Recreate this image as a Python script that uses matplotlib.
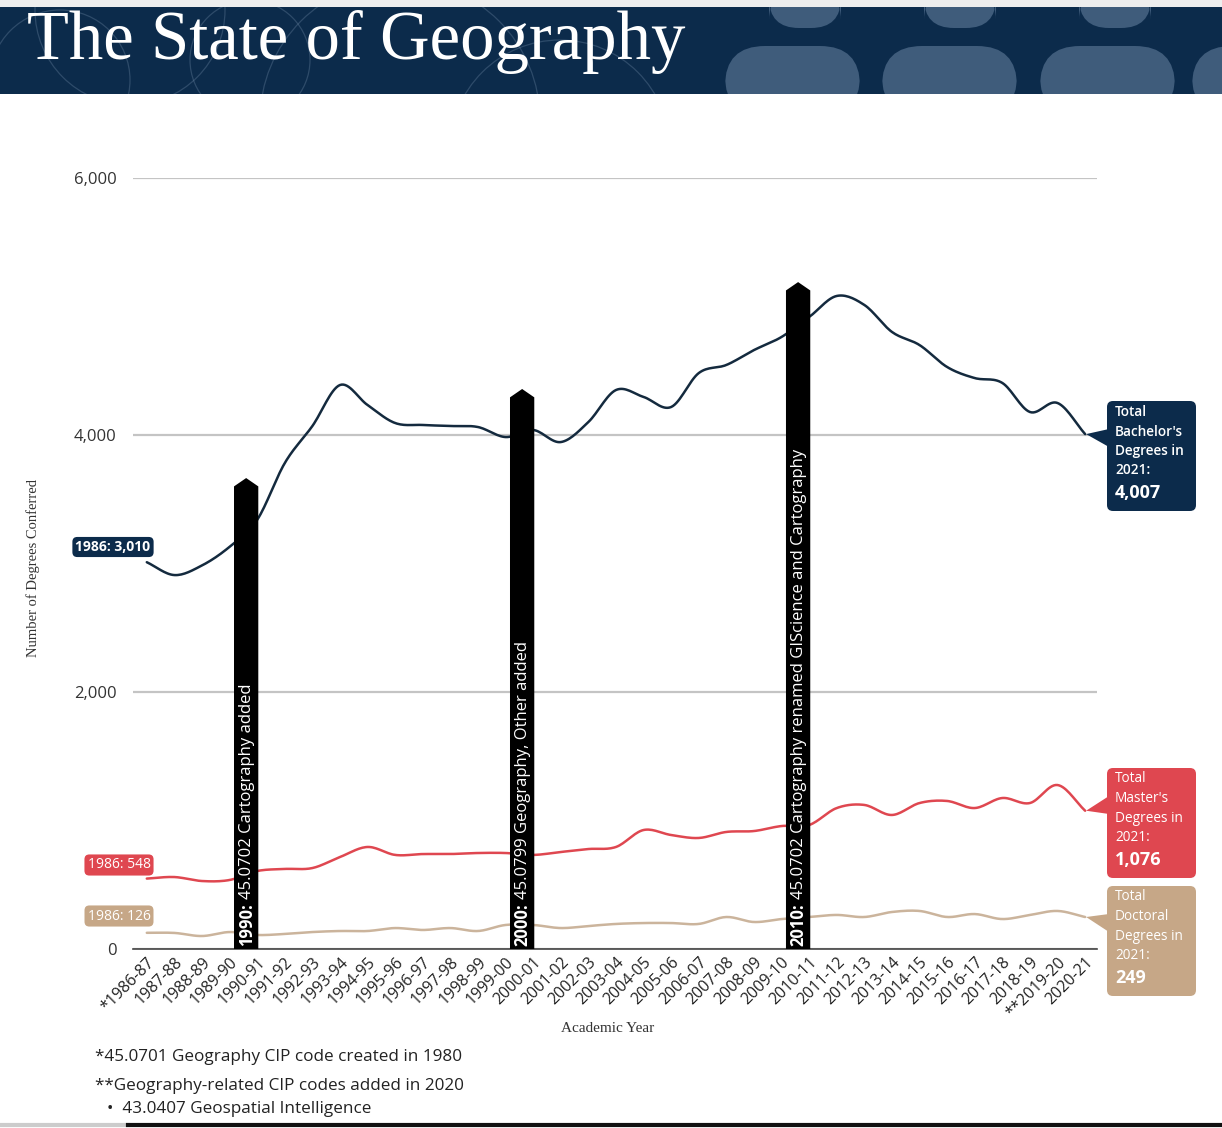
import numpy as np
import matplotlib.pyplot as plt
from matplotlib.patches import Polygon, FancyBboxPatch, Rectangle, Circle

plt.rcParams['font.family'] = ['Open Sans', 'DejaVu Sans']

# ---- data ----
years = ["*1986-87", "1987-88", "1988-89", "1989-90", "1990-91", "1991-92",
         "1992-93", "1993-94", "1994-95", "1995-96", "1996-97", "1997-98",
         "1998-99", "1999-00", "2000-01", "2001-02", "2002-03", "2003-04",
         "2004-05", "2005-06", "2006-07", "2007-08", "2008-09", "2009-10",
         "2010-11", "2011-12", "2012-13", "2013-14", "2014-15", "2015-16",
         "2016-17", "2017-18", "2018-19", "**2019-20", "2020-21"]
bachelors = [3010, 2910, 2985, 3130, 3340, 3782, 4070, 4389, 4233, 4093,
             4078, 4070, 4062, 3984, 4039, 3945, 4101, 4350, 4296, 4218,
             4482, 4545, 4661, 4763, 4918, 5082, 5012, 4802, 4700, 4529,
             4443, 4405, 4179, 4249, 4007]
masters = [548, 560, 529, 537, 607, 623, 630, 716, 794, 732, 739, 739, 747,
           747, 732, 755, 778, 794, 926, 887, 864, 911, 918, 957, 965, 1097,
           1121, 1043, 1136, 1152, 1097, 1175, 1136, 1276, 1076]
doctoral = [126, 125, 101, 132, 109, 117, 132, 140, 140, 163, 148, 163, 140,
            187, 187, 163, 179, 195, 202, 202, 195, 249, 210, 233, 249, 265,
            249, 288, 296, 249, 272, 233, 265, 296, 249]

event_pos = [3.6, 13.6, 23.6]
event_top = [3665, 4358, 5190]
event_year = ["1990:", "2000:", "2010:"]
event_text = ["45.0702 Cartography added",
              "45.0799 Geography, Other added",
              "45.0702 Cartography renamed GIScience and Cartography"]

NAVY = '#0c2b4b'
LINE_NAVY = '#142a3e'
RED = '#df4750'
TAN = '#c6a787'
TAN_LINE = '#cbb49c'


def smooth(y, n=16):
    # Catmull-Rom curve through the points, for drawing only
    y = np.asarray(y, float)
    p = np.concatenate([[2 * y[0] - y[1]], y, [2 * y[-1] - y[-2]]])
    xs, ys = [], []
    t = np.linspace(0, 1, n, endpoint=False)
    for i in range(len(y) - 1):
        p0, p1, p2, p3 = p[i], p[i + 1], p[i + 2], p[i + 3]
        ys.append(0.5 * (2 * p1 + (-p0 + p2) * t
                         + (2 * p0 - 5 * p1 + 4 * p2 - p3) * t ** 2
                         + (-p0 + 3 * p1 - 3 * p2 + p3) * t ** 3))
        xs.append(i + t)
    xs.append([len(y) - 1])
    ys.append([y[-1]])
    return np.concatenate(xs), np.concatenate(ys)


W, H = 1222, 1128
fig = plt.figure(figsize=(W / 100, H / 100), dpi=100)
fig.patch.set_facecolor('white')

ax = fig.add_axes([133 / W, 1 - 949 / H, (1097 - 133) / W, (949 - 178) / H])
ax.set_xlim(-0.5, 34.43)
ax.set_ylim(0, 6000)
for s in ['top', 'right', 'left']:
    ax.spines[s].set_visible(False)
ax.spines['bottom'].set_color('#444444')
ax.spines['bottom'].set_linewidth(1.2)
ax.set_yticks([0, 2000, 4000, 6000])
ax.set_yticklabels(['0', '2,000', '4,000', '6,000'], fontsize=12, color='#333333')
ax.yaxis.grid(True, color='#c4c4c4', lw=1.6)
ax.set_axisbelow(True)
ax.tick_params(length=0)
ax.tick_params(axis='y', pad=12)
ax.tick_params(axis='x', pad=4)
ax.set_xticks(range(len(years)))
ax.set_xticklabels(years, rotation=45, ha='right', va='top',
                   rotation_mode='anchor', fontsize=11.5, color='#222222')

# lines (drawn below the event columns)
for vals, col in [(bachelors, LINE_NAVY), (masters, RED), (doctoral, TAN_LINE)]:
    xs, ys = smooth(vals)
    ax.plot(xs, ys, color=col, lw=1.8, zorder=2, solid_capstyle='round')

# event columns
renderer = fig.canvas.get_renderer()
wbar = 0.44
for pos, top, yr, txt in zip(event_pos, event_top, event_year, event_text):
    poly = Polygon([(pos - wbar, 0), (pos - wbar, top - 65), (pos, top),
                    (pos + wbar, top - 65), (pos + wbar, 0)],
                   closed=True, fc='black', ec='none', zorder=4)
    ax.add_patch(poly)
    t1 = ax.text(pos + 0.02, 25, yr, rotation=90, ha='center', va='bottom',
                 color='white', fontsize=12, fontweight='bold', zorder=5)
    bb = t1.get_window_extent(renderer)
    ytop = ax.transData.inverted().transform((bb.x0, bb.y1))[1]
    ax.text(pos + 0.02, ytop + 30, txt, rotation=90, ha='center',
            va='bottom', color='white', fontsize=12, zorder=5)

# ---- overlay in pixel units ----
ov = fig.add_axes([0, 0, 1, 1], zorder=10)
ov.set_xlim(0, W)
ov.set_ylim(H, 0)
ov.axis('off')

# header band
ov.add_patch(Rectangle((0, 0), W, 7, fc='#eeeeee', ec='none'))
band = Rectangle((0, 7), W, 87, fc=NAVY, ec='none')
ov.add_patch(band)
deco = []
for cx in [805, 960, 1115]:
    deco.append(FancyBboxPatch((cx - 36, -10), 72, 38,
                               boxstyle='round,pad=0,rounding_size=30',
                               fc='#3f5c7b', ec='none'))
for x0 in [725, 882, 1040, 1192]:
    deco.append(FancyBboxPatch((x0, 46), 135, 70,
                               boxstyle='round,pad=0,rounding_size=40',
                               fc='#3f5c7b', ec='none'))
for (cx, cy, r) in [(130, 10, 95), (60, 80, 70), (250, 60, 60),
                    (400, 120, 140), (560, 150, 110)]:
    deco.append(Circle((cx, cy), r, fc='none', ec='#6d87a3', lw=0.9,
                       alpha=0.35))
for p in deco:
    ov.add_patch(p)
    p.set_clip_path(band)
ov.text(27, 59, 'The State of Geography', fontsize=49.5, color='white',
        family='Liberation Serif', ha='left', va='baseline')

# axis labels
ov.text(33, 568, 'Number of Degrees Conferred', rotation=90, ha='center',
        va='center', family='Liberation Serif', fontsize=10.5, color='#333333')
ov.text(608, 1029, 'Academic Year', ha='center', va='center',
        family='Liberation Serif', fontsize=11, color='#333333')

# start labels
starts = [(bachelors[0], NAVY, 113, 547, 'bold'),
          (masters[0], RED, 119, 865, 'normal'),
          (doctoral[0], TAN, 119, 916, 'normal')]
for v, col, x, y, wt in starts:
    ov.text(x, y, f'1986: {v:,}', ha='center', va='center', color='white',
            fontsize=10, fontweight=wt,
            bbox=dict(boxstyle='round,pad=0.22,rounding_size=0.35', fc=col,
                      ec='none'))


def end_px(val):
    px, py = ax.transData.transform((len(years) - 1, val))
    return px, H - py


# end labels
ends = [(bachelors[-1], NAVY, 401, "Bachelor's", 'semibold'),
        (masters[-1], RED, 768, "Master's", 'normal'),
        (doctoral[-1], TAN, 886, "Doctoral", 'normal')]
for v, col, top, kind, wt in ends:
    ex, ey = end_px(v)
    ov.add_patch(Polygon([(ex + 1, ey), (1109, top + 28), (1109, top + 46)],
                         closed=True, fc=col, ec='none'))
    ov.add_patch(FancyBboxPatch((1107, top), 89, 110,
                                boxstyle='round,pad=0,rounding_size=6',
                                fc=col, ec='none'))
    for k, line in enumerate(['Total', kind, 'Degrees in', '2021:']):
        ov.text(1115, top + 11 + 19.5 * k, line, ha='left', va='center',
                color='white', fontsize=9.8, fontweight=wt)
    ov.text(1115, top + 92, f'{v:,}', ha='left', va='center', color='white',
            fontsize=13, fontweight='bold')

# footnotes
ov.text(95, 1057, '*45.0701 Geography CIP code created in 1980', ha='left',
        va='center', fontsize=12.3, color='#222222')
ov.text(95, 1086, '**Geography-related CIP codes added in 2020', ha='left',
        va='center', fontsize=12.3, color='#222222')
ov.text(107, 1109, '\u2022  43.0407 Geospatial Intelligence', ha='left',
        va='center', fontsize=12.3, color='#222222')
ov.plot([0, 128], [1125, 1125], color='#cccccc', lw=3)
ov.plot([128, W], [1125, 1125], color='#111111', lw=3)

fig.savefig('out.png', dpi=100)
